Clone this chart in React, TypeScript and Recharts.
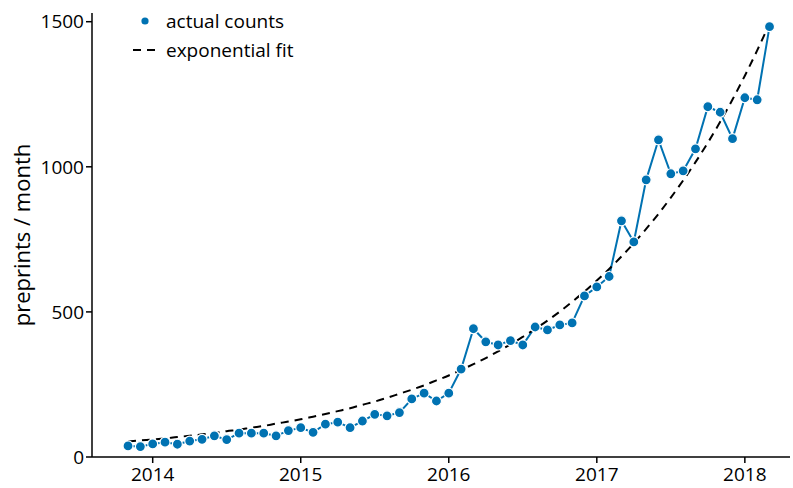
import { LineChart, Line, XAxis, YAxis } from 'recharts';

// monthly preprint counts
const months = [
  '2013-11', '2013-12',
  '2014-01', '2014-02', '2014-03', '2014-04', '2014-05', '2014-06',
  '2014-07', '2014-08', '2014-09', '2014-10', '2014-11', '2014-12',
  '2015-01', '2015-02', '2015-03', '2015-04', '2015-05', '2015-06',
  '2015-07', '2015-08', '2015-09', '2015-10', '2015-11', '2015-12',
  '2016-01', '2016-02', '2016-03', '2016-04', '2016-05', '2016-06',
  '2016-07', '2016-08', '2016-09', '2016-10', '2016-11', '2016-12',
  '2017-01', '2017-02', '2017-03', '2017-04', '2017-05', '2017-06',
  '2017-07', '2017-08', '2017-09', '2017-10', '2017-11', '2017-12',
  '2018-01', '2018-02', '2018-03',
];

const actualCounts = [
  38, 36,
  45, 51, 44, 55, 61, 73, 60, 82, 82, 82, 73, 91,
  101, 85, 113, 120, 101, 124, 147, 142, 153, 200, 220, 193,
  220, 303, 442, 397, 386, 401, 386, 448, 438, 455, 462, 555,
  586, 622, 814, 741, 955, 1093, 976, 986, 1062, 1207, 1188, 1097,
  1238, 1231, 1483,
];

const expFit = [
  53, 57,
  60, 64, 69, 73, 78, 83, 89, 94, 101, 107, 115, 122,
  130, 139, 148, 158, 168, 180, 191, 204, 218, 232, 247, 264,
  281, 300, 320, 341, 364, 388, 414, 441, 470, 501, 535, 570,
  608, 648, 691, 737, 786, 838, 894, 953, 1016, 1083, 1155, 1232,
  1314, 1401, 1494,
];

const yearTicks = [2014, 2015, 2016, 2017, 2018];
const countTicks = [0, 500, 1000, 1500];

const BLUE = '#0072B2';
const FONT = '"Open Sans", sans-serif';

const toYear = (m: string) => {
  const [y, mo] = m.split('-').map(Number);
  return y + (mo - 1) / 12;
};

const data = months.map((m, i) => ({
  t: toYear(m),
  counts: actualCounts[i],
  fit: expFit[i],
}));

// legend in the top-left corner of the plot (plain html on top of the svg)
const LegendBox = () => (
  <div
    style={{
      position: 'absolute',
      left: 130,
      top: 6,
      fontFamily: FONT,
      fontSize: 19,
      color: '#000',
    }}
  >
    <div style={{ display: 'flex', alignItems: 'center', height: 29 }}>
      <svg width={28} height={12}>
        <circle cx={15} cy={6} r={3.6} fill={BLUE} />
      </svg>
      <span style={{ marginLeft: 8 }}>actual counts</span>
    </div>
    <div style={{ display: 'flex', alignItems: 'center', height: 29 }}>
      <svg width={28} height={12}>
        <line x1={3} y1={6} x2={26} y2={6} stroke="#000" strokeWidth={2} strokeDasharray="8 6" />
      </svg>
      <span style={{ marginLeft: 8 }}>exponential fit</span>
    </div>
  </div>
);

export default function App() {
  return (
    <div style={{ position: 'absolute', left: 0, top: 0, width: 793, height: 488, background: '#fff' }}>
      <LineChart
        width={793}
        height={488}
        data={data}
        margin={{ top: 13, right: 3, left: 0, bottom: 0 }}
      >
        <XAxis
          dataKey="t"
          type="number"
          domain={[2013.59, 2018.305]}
          ticks={yearTicks}
          allowDataOverflow
          height={31}
          tickSize={6}
          tickMargin={5}
          axisLine={{ stroke: '#000', strokeWidth: 1.5 }}
          tickLine={{ stroke: '#000', strokeWidth: 1.5 }}
          tick={{ fontSize: 19, fill: '#000', fontFamily: FONT }}
        />
        <YAxis
          type="number"
          domain={[0, 1530]}
          ticks={countTicks}
          width={92}
          tickSize={6}
          axisLine={{ stroke: '#000', strokeWidth: 1.5 }}
          tickLine={{ stroke: '#000', strokeWidth: 1.5 }}
          tick={{ fontSize: 19, fill: '#000', fontFamily: FONT }}
          label={{
            value: 'preprints / month',
            angle: -90,
            position: 'insideLeft',
            offset: 22,
            style: { textAnchor: 'middle', fontSize: 22, fill: '#000', fontFamily: FONT },
          }}
        />
        <Line
          type="linear"
          dataKey="counts"
          stroke={BLUE}
          strokeWidth={2}
          dot={{ r: 5, fill: BLUE, stroke: '#fff', strokeWidth: 1.2 }}
          activeDot={false}
          isAnimationActive={false}
        />
        <Line
          type="monotone"
          dataKey="fit"
          stroke="#000"
          strokeWidth={2}
          strokeDasharray="8 6"
          dot={false}
          activeDot={false}
          isAnimationActive={false}
        />
      </LineChart>
      <LegendBox />
    </div>
  );
}
